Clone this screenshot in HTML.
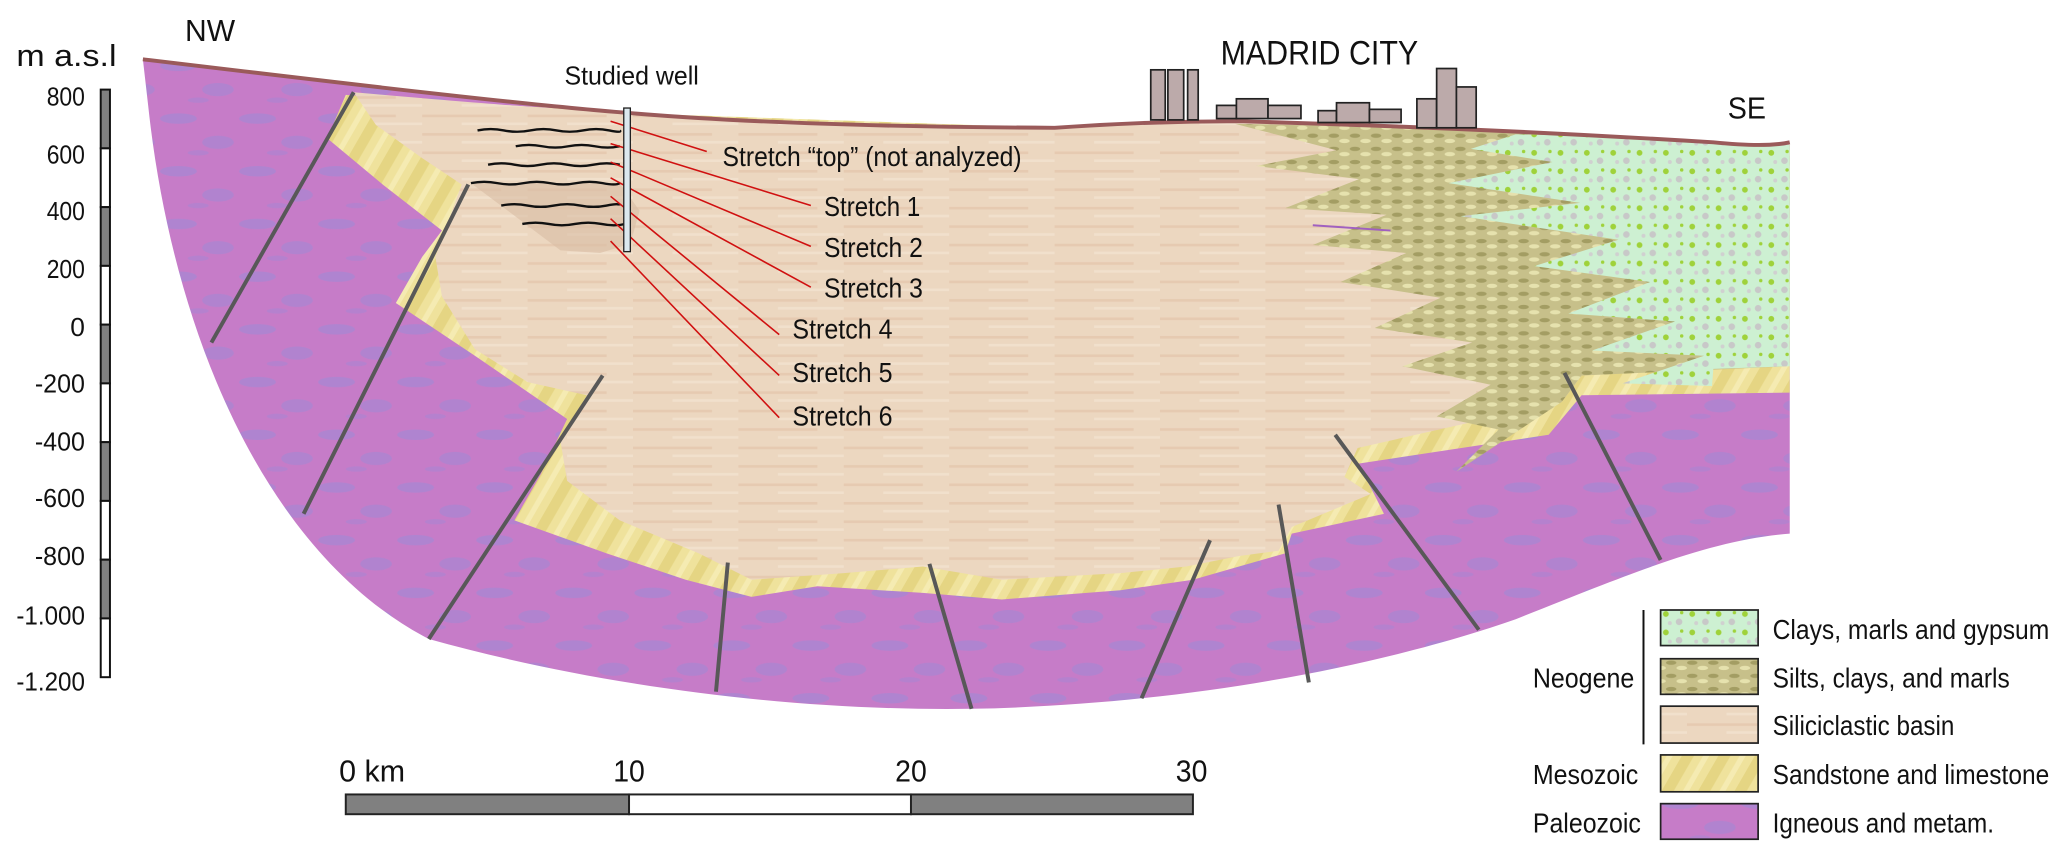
<!DOCTYPE html>
<html><head><meta charset="utf-8">
<style>
html,body{margin:0;padding:0;background:#fff;}
svg{display:block;}
text{font-family:"Liberation Sans Narrow","Liberation Sans",sans-serif;fill:#111;}
</style></head>
<body>
<svg width="2067" height="859" viewBox="0 0 1568 652" xmlns="http://www.w3.org/2000/svg">
<defs>
<pattern id="pur" width="60" height="40" patternUnits="userSpaceOnUse">
<rect width="60" height="40" fill="#c67cc8"/>
<ellipse cx="15" cy="10" rx="14" ry="4" fill="#9c8ad6" opacity="0.55"/>
<ellipse cx="45" cy="28" rx="12" ry="5" fill="#9c8ad6" opacity="0.5"/>
<ellipse cx="30" cy="36" rx="8" ry="2" fill="#9c8ad6" opacity="0.4"/>
</pattern>
<pattern id="beige" width="80" height="14" patternUnits="userSpaceOnUse">
<rect width="80" height="14" fill="#ecd7c0"/>
<rect y="3" width="60" height="2" fill="#e4c5ac" opacity="0.7"/>
<rect x="30" y="9" width="50" height="2" fill="#f2e2cf" opacity="0.8"/>
</pattern>
<pattern id="yel" width="24" height="24" patternUnits="userSpaceOnUse" patternTransform="rotate(30)">
<rect width="24" height="24" fill="#efe29c"/>
<rect width="8" height="24" fill="#e2d07a" opacity="0.7"/>
<rect x="14" width="4" height="24" fill="#f6eeb8" opacity="0.8"/>
</pattern>
<pattern id="silt" width="16" height="10" patternUnits="userSpaceOnUse">
<rect width="16" height="10" fill="#c7c08a"/>
<ellipse cx="4" cy="3" rx="4" ry="1.6" fill="#a39d63"/>
<ellipse cx="12" cy="7" rx="4" ry="1.6" fill="#e6e2ae"/>
</pattern>
<pattern id="grn" width="20" height="14" patternUnits="userSpaceOnUse">
<rect width="20" height="14" fill="#cdf0d2"/>
<circle cx="4" cy="4" r="2.2" fill="#9fd23a"/>
<circle cx="14" cy="10" r="2.5" fill="#c8c8c8"/>
<circle cx="16" cy="3" r="1.3" fill="#9fd23a"/>
<circle cx="7" cy="11" r="1.5" fill="#d0d0d0"/>
</pattern>
</defs>

<!-- Paleozoic -->
<path d="M108,45 C250,62 400,80 480,86 Q600,96 800,97 Q870,92 940,92 Q1120,97 1300,108 L1358,110 L1358,405 C1300,410 1250,430 1150,470 C1050,505 900,535 737,538 C600,540 450,520 325,485 C200,420 130,250 112,80 Z" fill="url(#pur)"/>
<!-- Sandstone -->
<path d="M262,72 L248,105 L290,140 L335,175 L320,195 L300,230 L360,270 L430,318 L410,360 L390,395 L460,420 L520,440 L570,453 L620,445 L700,450 L760,455 L850,448 L905,440 L940,430 L975,420 L980,405 L1050,390 L1040,370 L1030,352 L1175,330 L1200,300 L1358,298 L1358,120 L800,97 L480,86 Z" fill="url(#yel)"/>
<!-- Basin -->
<path d="M268,70 C380,80 440,84 480,86 Q600,96 800,97 Q870,92 940,92 Q1120,97 1300,108 L1358,110 L1358,275 L1200,285 L1185,305 L1030,340 L1020,362 L1040,375 L980,400 L970,418 L940,422 L900,430 L850,435 L760,440 L700,430 L640,435 L570,440 L530,420 L470,395 L430,365 L425,335 L445,300 L400,290 L360,265 L335,225 L330,195 L350,140 L320,120 L285,95 Z" fill="url(#beige)"/>
<!-- darker well zone -->
<path d="M357,139 L470,139 L485,160 L478,185 L455,192 L425,190 Z" fill="#d8bda3" opacity="0.6"/>
<!-- Silts -->
<path d="M937,94 Q1120,97 1300,108 L1358,110 L1358,278 L1200,285 L1185,305 L1105,358 L1137,326 L1090,316 L1131,292 L1064,278 L1117,260 L1043,249 L1093,226 L1017,214 L1067,192 L996,186 L1052,163 L975,158 L1031,136 L953,126 L1014,114 L937,94 Z" fill="url(#silt)"/>
<!-- Clays green -->
<path d="M1150,102 Q1250,104 1300,108 L1358,110 L1358,278 L1300,280 L1299,293 L1231,291 L1293,270 L1208,266 L1271,244 L1190,238 L1252,214 L1164,202 L1228,182 L1108,164 L1199,154 L1099,139 L1178,123 L1116,113 Z" fill="url(#grn)"/>
<line x1="996" y1="171" x2="1055" y2="175" stroke="#a060c0" stroke-width="1.5"/>
<!-- surface -->
<path d="M108,45 C250,62 400,80 480,86 Q600,96 800,97 Q870,92 940,92 Q1120,97 1300,108 Q1340,112 1358,108" fill="none" stroke="#9a5a5a" stroke-width="3"/>
<!-- faults -->
<g stroke="#585858" stroke-width="3" fill="none">
<line x1="268" y1="70" x2="160" y2="260"/>
<line x1="355" y1="140" x2="230" y2="390"/>
<line x1="457" y1="285" x2="325" y2="485"/>
<line x1="552" y1="427" x2="543" y2="525"/>
<line x1="705" y1="428" x2="737" y2="538"/>
<line x1="918" y1="410" x2="866" y2="530"/>
<line x1="970" y1="383" x2="993" y2="518"/>
<line x1="1013" y1="330" x2="1122" y2="478"/>
<line x1="1187" y1="283" x2="1260" y2="425"/>
</g>
<!-- wavy lines -->
<g stroke="#111" stroke-width="1.8" fill="none">
<path d="M362,99 q10,-2 20,0 t20,0 t20,0 t20,0 t20,0 t8,0"/>
<path d="M391,111 q10,-2 20,0 t20,0 t20,0 t19,0"/>
<path d="M370,125 q10,-2 20,0 t20,0 t20,0 t20,0 t20,0"/>
<path d="M357,139 q10,-2 20,0 t20,0 t20,0 t20,0 t20,0 t13,0"/>
<path d="M380,156 q10,-2 20,0 t20,0 t20,0 t20,0 t10,0"/>
<path d="M396,170 q10,-2 20,0 t20,0 t20,0 t18,0"/>
</g>
<!-- red leaders -->
<g stroke="#d01010" stroke-width="1.2">
<line x1="463" y1="92" x2="536" y2="115"/>
<line x1="463" y1="109" x2="615" y2="156"/>
<line x1="463" y1="123" x2="615" y2="187"/>
<line x1="463" y1="135" x2="615" y2="218"/>
<line x1="463" y1="149" x2="591" y2="254"/>
<line x1="463" y1="166" x2="591" y2="285"/>
<line x1="463" y1="183" x2="591" y2="317"/>
</g>
<rect x="473" y="82" width="5" height="109" fill="#dce8ee" stroke="#222" stroke-width="1"/>
<!-- buildings -->
<g fill="#bcaaaa" stroke="#222" stroke-width="1.3">
<rect x="873" y="53" width="11" height="38"/><rect x="886" y="53" width="12" height="38"/><rect x="901" y="53" width="8" height="38"/>
<rect x="923" y="80" width="15" height="10"/><rect x="938" y="75" width="24" height="15"/><rect x="962" y="80" width="25" height="10"/>
<rect x="1000" y="84" width="14" height="9"/><rect x="1014" y="78" width="25" height="15"/><rect x="1039" y="83" width="24" height="10"/>
<rect x="1075" y="75" width="15" height="22"/><rect x="1090" y="52" width="15" height="45"/><rect x="1105" y="66" width="15" height="31"/>
</g>
<!-- texts -->
<text x="12" y="50" font-size="23" textLength="76" lengthAdjust="spacingAndGlyphs">m a.s.l</text>
<text x="140" y="31" font-size="23" textLength="38" lengthAdjust="spacingAndGlyphs">NW</text>
<text x="1311" y="90" font-size="23" textLength="29" lengthAdjust="spacingAndGlyphs">SE</text>
<text x="926" y="49" font-size="26" textLength="150" lengthAdjust="spacingAndGlyphs">MADRID CITY</text>
<text x="428" y="64" font-size="20" textLength="102" lengthAdjust="spacingAndGlyphs">Studied well</text>
<g font-size="21">
<text x="548" y="126" textLength="227" lengthAdjust="spacingAndGlyphs">Stretch “top” (not analyzed)</text>
<text x="625" y="164" textLength="73" lengthAdjust="spacingAndGlyphs">Stretch 1</text>
<text x="625" y="195" textLength="75" lengthAdjust="spacingAndGlyphs">Stretch 2</text>
<text x="625" y="226" textLength="75" lengthAdjust="spacingAndGlyphs">Stretch 3</text>
<text x="601" y="257" textLength="76" lengthAdjust="spacingAndGlyphs">Stretch 4</text>
<text x="601" y="290" textLength="76" lengthAdjust="spacingAndGlyphs">Stretch 5</text>
<text x="601" y="323" textLength="76" lengthAdjust="spacingAndGlyphs">Stretch 6</text>
</g>
<!-- vertical scale -->
<g stroke="#111" stroke-width="1.5">
<rect x="76" y="68" width="7" height="44.6" fill="#808080"/>
<rect x="76" y="112.6" width="7" height="44.6" fill="#fff"/>
<rect x="76" y="157.2" width="7" height="44.6" fill="#808080"/>
<rect x="76" y="201.8" width="7" height="44.6" fill="#fff"/>
<rect x="76" y="246.4" width="7" height="44.6" fill="#808080"/>
<rect x="76" y="291" width="7" height="44.6" fill="#fff"/>
<rect x="76" y="335.6" width="7" height="44.6" fill="#808080"/>
<rect x="76" y="380.2" width="7" height="44.6" fill="#fff"/>
<rect x="76" y="424.8" width="7" height="44.6" fill="#808080"/>
<rect x="76" y="469.4" width="7" height="44.6" fill="#fff"/>
</g>
<g font-size="20" text-anchor="end">
<text x="64" y="80" textLength="29" lengthAdjust="spacingAndGlyphs">800</text>
<text x="64" y="124" textLength="29" lengthAdjust="spacingAndGlyphs">600</text>
<text x="64" y="167" textLength="29" lengthAdjust="spacingAndGlyphs">400</text>
<text x="64" y="211" textLength="29" lengthAdjust="spacingAndGlyphs">200</text>
<text x="64" y="255">0</text>
<text x="64" y="298" textLength="38" lengthAdjust="spacingAndGlyphs">-200</text>
<text x="64" y="342" textLength="38" lengthAdjust="spacingAndGlyphs">-400</text>
<text x="64" y="385" textLength="38" lengthAdjust="spacingAndGlyphs">-600</text>
<text x="64" y="429" textLength="38" lengthAdjust="spacingAndGlyphs">-800</text>
<text x="64" y="474" textLength="52" lengthAdjust="spacingAndGlyphs">-1.000</text>
<text x="64" y="524" textLength="52" lengthAdjust="spacingAndGlyphs">-1.200</text>
</g>
<!-- horizontal scale -->
<g stroke="#222" stroke-width="1.5">
<rect x="262" y="603" width="215" height="15" fill="#808080"/>
<rect x="477" y="603" width="214" height="15" fill="#fff"/>
<rect x="691" y="603" width="214" height="15" fill="#808080"/>
</g>
<g font-size="23">
<text x="257" y="593" textLength="50" lengthAdjust="spacingAndGlyphs">0 km</text>
<text x="465" y="593" textLength="24" lengthAdjust="spacingAndGlyphs">10</text>
<text x="679" y="593" textLength="24" lengthAdjust="spacingAndGlyphs">20</text>
<text x="892" y="593" textLength="24" lengthAdjust="spacingAndGlyphs">30</text>
</g>
<!-- legend -->
<line x1="1247" y1="463" x2="1247" y2="565" stroke="#111" stroke-width="1.5"/>
<g stroke="#222" stroke-width="1.3">
<rect x="1260" y="463" width="74" height="27" fill="url(#grn)"/>
<rect x="1260" y="500" width="74" height="27" fill="url(#silt)"/>
<rect x="1260" y="536" width="74" height="28" fill="url(#beige)"/>
<rect x="1260" y="573" width="74" height="28" fill="url(#yel)"/>
<rect x="1260" y="610" width="74" height="27" fill="url(#pur)"/>
</g>
<g font-size="21">
<text x="1345" y="485" textLength="210" lengthAdjust="spacingAndGlyphs">Clays, marls and gypsum</text>
<text x="1345" y="522" textLength="180" lengthAdjust="spacingAndGlyphs">Silts, clays, and marls</text>
<text x="1345" y="558" textLength="138" lengthAdjust="spacingAndGlyphs">Siliciclastic basin</text>
<text x="1345" y="595" textLength="210" lengthAdjust="spacingAndGlyphs">Sandstone and limestone</text>
<text x="1345" y="632" textLength="168" lengthAdjust="spacingAndGlyphs">Igneous and metam.</text>
<text x="1163" y="522" textLength="77" lengthAdjust="spacingAndGlyphs">Neogene</text>
<text x="1163" y="595" textLength="80" lengthAdjust="spacingAndGlyphs">Mesozoic</text>
<text x="1163" y="632" textLength="82" lengthAdjust="spacingAndGlyphs">Paleozoic</text>
</g>
</svg>
</body></html>
